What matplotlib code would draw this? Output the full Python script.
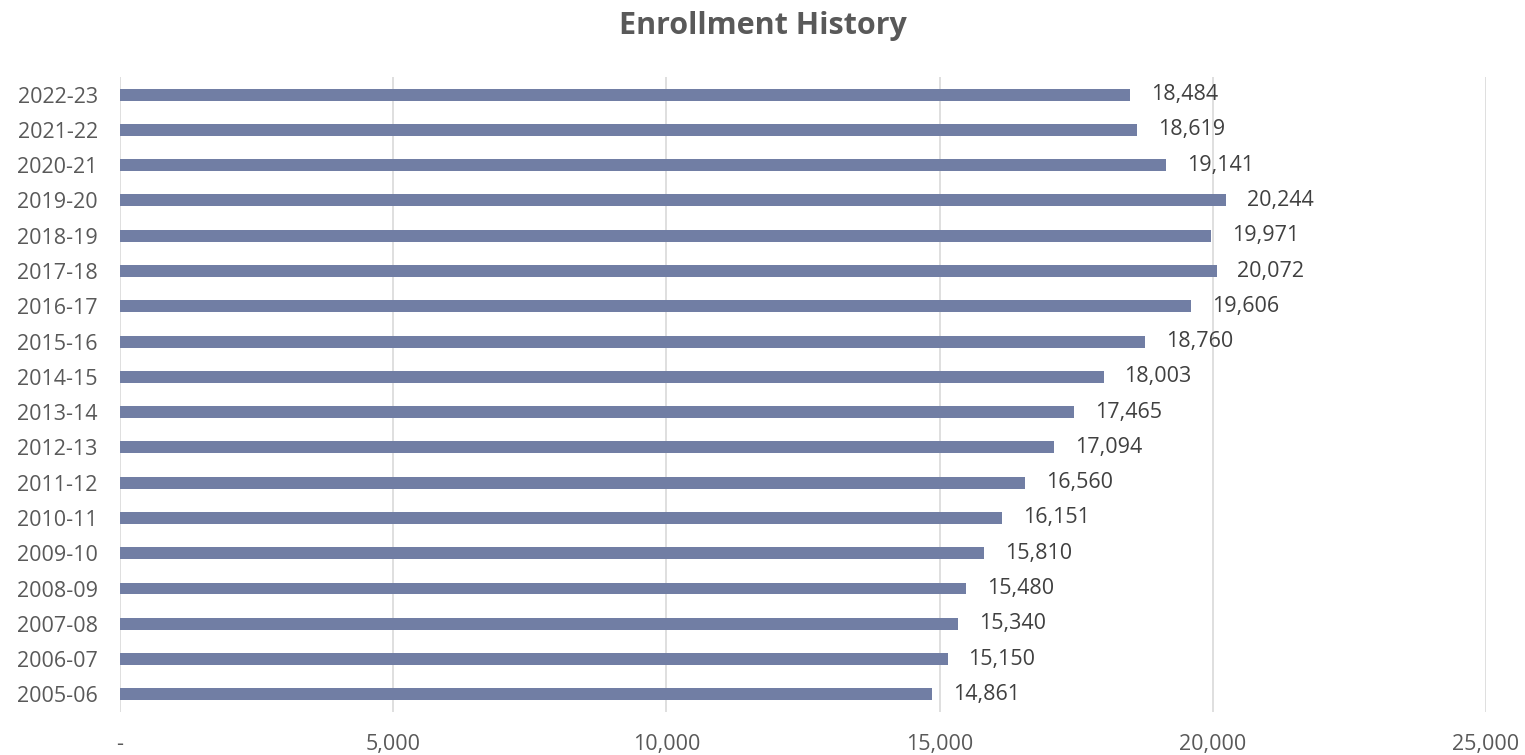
import matplotlib.pyplot as plt
from matplotlib.ticker import FuncFormatter

years = ['2005-06', '2006-07', '2007-08', '2008-09', '2009-10', '2010-11',
         '2011-12', '2012-13', '2013-14', '2014-15', '2015-16', '2016-17',
         '2017-18', '2018-19', '2019-20', '2020-21', '2021-22', '2022-23']
enrollment = [14861, 15150, 15340, 15480, 15810, 16151, 16560, 17094, 17465,
              18003, 18760, 19606, 20072, 19971, 20244, 19141, 18619, 18484]
x_ticks = [0, 5000, 10000, 15000, 20000, 25000]

plt.rcParams['font.family'] = ['Open Sans', 'DejaVu Sans']

fig = plt.figure(figsize=(15.25, 7.55), dpi=100)
ax = fig.add_axes([0.0787, 0.057, 0.8957, 0.841])

bar_color = '#717ea4'
text_color = '#595959'

ax.barh(range(len(years)), enrollment, height=0.34, color=bar_color, zorder=3)
for i, v in enumerate(enrollment):
    ax.text(v + 380, i, f'{v:,}', va='center', ha='left', fontsize=15.5, color='#404040')

ax.set_yticks(range(len(years)))
ax.set_yticklabels(years)
ax.set_ylim(-0.5, len(years) - 0.5)
ax.set_xlim(0, 25000)
ax.set_xticks(x_ticks)
ax.xaxis.set_major_formatter(FuncFormatter(lambda v, p: '-' if v == 0 else f'{int(v):,}'))
ax.tick_params(axis='both', length=0, labelsize=15.5, colors=text_color)
ax.tick_params(axis='x', pad=16)
ax.tick_params(axis='y', pad=16)

ax.grid(axis='x', color='#d9d9d9', linewidth=1.2, zorder=0)
for s in ax.spines.values():
    s.set_visible(False)

fig.text(0.5, 0.966, 'Enrollment History', ha='center', va='center',
         fontsize=22, fontweight='bold', color=text_color)

fig.savefig('out.png', dpi=100)
